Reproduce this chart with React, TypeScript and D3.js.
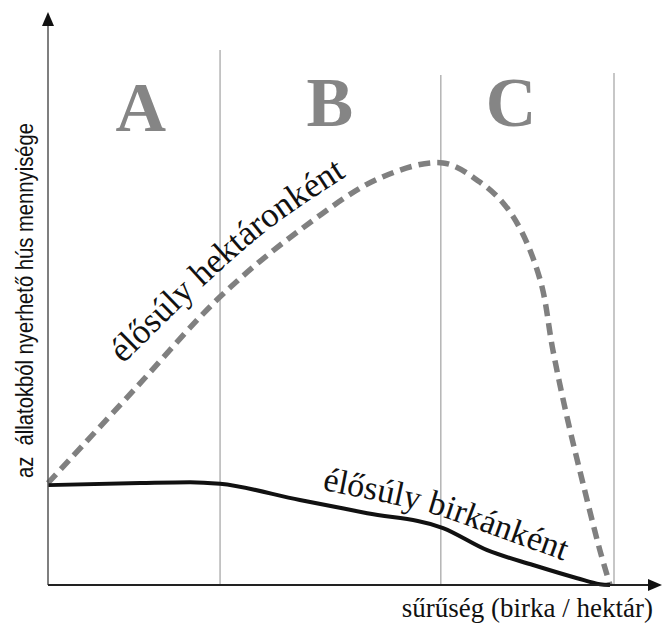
import React from "react";
import * as d3 from "d3";

// data (arbitrary units: x = density 0..100, y = meat amount 0..100)
const zoneBounds = [30.4, 69.4, 100];
const zoneNames = ["A", "B", "C"];
const zoneLabelX = [16.4, 49.8, 81.8];

const perHectareX = [0, 15.2, 30.4, 44.5, 58.7, 69.8, 76.3, 80.4, 83.7, 87.1, 89.2, 91.7, 94.5, 97.5, 99.3];
const perHectareY = [24.0, 45.9, 67.8, 83.5, 95.8, 99.3, 94.8, 89.9, 83.1, 71.1, 55.3, 39.5, 24.0, 8.2, 0];

const perSheepX = [0, 16.3, 25.1, 30.4, 44.5, 56.4, 69.8, 77.6, 85.7, 93.5, 97.5, 99.3];
const perSheepY = [23.5, 24.0, 24.2, 23.8, 20.0, 16.9, 13.4, 8.2, 4.7, 1.6, 0.2, 0];

const perHectareLabelX = [13.3, 27.2, 39.8, 56.6];
const perHectareLabelY = [52.0, 70.0, 84.5, 99.5];
const perSheepLabelX = [48.4, 67.5, 79.9, 92.2];
const perSheepLabelY = [22.4, 16.9, 11.1, 5.2];

const perHectareLabel = "élősúly hektáronként";
const perSheepLabel = "élősúly birkánként";
const xAxisLabel = "sűrűség (birka / hektár)";
const yAxisLabel = "az  állatokból nyerhető hús mennyisége";

const W = 662;
const H = 623;
const x0 = 48;
const yBase = 585;

export default function App() {
  const x = d3.scaleLinear().domain([0, 100]).range([x0, 614]);
  const y = d3.scaleLinear().domain([0, 100]).range([yBase, 160]);

  const zip = (xs: number[], ys: number[]) => xs.map((v, i) => [v, ys[i]] as [number, number]);

  const lineCR = d3
    .line<[number, number]>()
    .x((d) => x(d[0]))
    .y((d) => y(d[1]))
    .curve(d3.curveCatmullRom.alpha(0.5));
  const lineMono = d3
    .line<[number, number]>()
    .x((d) => x(d[0]))
    .y((d) => y(d[1]))
    .curve(d3.curveMonotoneX);

  const hectarePath = lineCR(zip(perHectareX, perHectareY)) || "";
  const sheepPath = lineMono(zip(perSheepX, perSheepY)) || "";
  const hectareLabelPath = lineCR(zip(perHectareLabelX, perHectareLabelY)) || "";
  const sheepLabelPath = lineCR(zip(perSheepLabelX, perSheepLabelY)) || "";

  const gridTops = [50, 75, 73];
  const labelBaselines = [131, 126, 126];

  return (
    <svg
      width={W}
      height={H}
      style={{ position: "absolute", left: 0, top: 0, background: "#fff" }}
    >
      <defs>
        <path id="hectareLabelPath" d={hectareLabelPath} />
        <path id="sheepLabelPath" d={sheepLabelPath} />
      </defs>
      {/* zone boundaries */}
      {zoneBounds.map((b, i) => (
        <line
          key={"g" + i}
          x1={x(b)}
          x2={x(b)}
          y1={gridTops[i]}
          y2={yBase}
          stroke="#b4b4b4"
          strokeWidth={1.5}
        />
      ))}
      {/* zone letters */}
      {zoneNames.map((n, i) => (
        <text
          key={"z" + i}
          x={x(zoneLabelX[i])}
          y={labelBaselines[i]}
          textAnchor="middle"
          fontFamily="'Liberation Serif', 'Times New Roman', serif"
          fontWeight="bold"
          fontSize={70}
          fill="#858585"
        >
          {n}
        </text>
      ))}
      {/* curves */}
      <path
        d={hectarePath}
        fill="none"
        stroke="#808080"
        strokeWidth={5.5}
        strokeDasharray="12 7"
      />
      <path d={sheepPath} fill="none" stroke="#111" strokeWidth={4} strokeLinejoin="round" />
      {/* axes */}
      <line x1={x0} x2={x0} y1={yBase} y2={22} stroke="#555" strokeWidth={1.5} />
      <polygon points={`${x0},12 ${x0 - 6},26 ${x0 + 6},26`} fill="#111" />
      <line x1={x0} x2={650} y1={yBase} y2={yBase} stroke="#222" strokeWidth={2} />
      <polygon points={`662,${yBase} 648,${yBase - 6} 648,${yBase + 6}`} fill="#111" />
      {/* curve labels */}
      <text
        fontFamily="'Liberation Serif', 'Times New Roman', serif"
        fontSize={35}
        fill="#111"
      >
        <textPath href="#hectareLabelPath">{perHectareLabel}</textPath>
      </text>
      <text
        fontFamily="'Liberation Serif', 'Times New Roman', serif"
        fontSize={34}
        fill="#111"
      >
        <textPath href="#sheepLabelPath">{perSheepLabel}</textPath>
      </text>
      {/* axis labels */}
      <text
        x={653}
        y={617}
        textAnchor="end"
        fontFamily="'Liberation Serif', 'Times New Roman', serif"
        fontSize={27}
        fill="#111"
      >
        {xAxisLabel}
      </text>
      <text
        transform="translate(33,478) rotate(-90)"
        textAnchor="start"
        fontFamily="'Liberation Sans', Arial, sans-serif"
        fontSize={23}
        fill="#111"
        textLength={355}
        lengthAdjust="spacingAndGlyphs"
        style={{ whiteSpace: "pre" }}
        xmlSpace="preserve"
      >
        {yAxisLabel}
      </text>
    </svg>
  );
}
